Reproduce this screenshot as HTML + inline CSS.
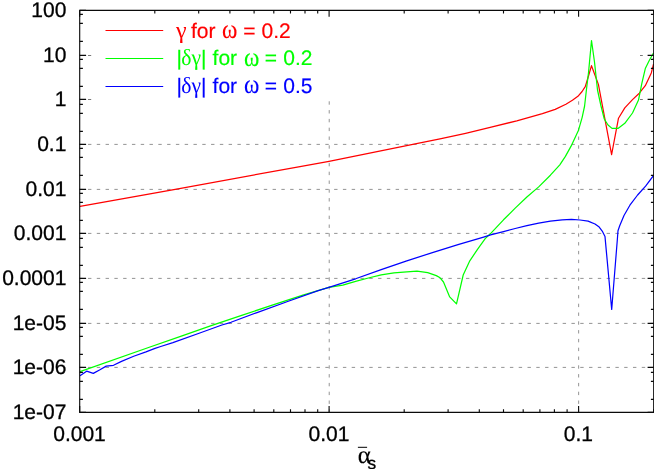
<!DOCTYPE html>
<html><head><meta charset="utf-8"><title>plot</title>
<style>
html,body{margin:0;padding:0;background:#fff;}
body{width:654px;height:469px;overflow:hidden;position:relative;}
svg{position:absolute;left:0;top:0;display:block;will-change:transform;}
text{text-rendering:geometricPrecision;}
text{font-family:"Liberation Sans",sans-serif;font-size:21px;fill:#000;stroke:#000;stroke-width:0.3px;}
.l{stroke-width:0.18px;}
.g{font-family:"Liberation Serif",serif;}
</style></head><body>
<svg width="654" height="469" viewBox="0 0 654 469">
<rect x="0" y="0" width="654" height="469" fill="#fff"/>
<g stroke="#787878" stroke-width="0.8" fill="none" stroke-dasharray="3.4 5.39">
<path d="M79.21,144.4 H653"/>
<path d="M79.21,189.4 H653"/>
<path d="M79.21,233.4 H653"/>
<path d="M79.21,278.4 H653"/>
<path d="M79.21,323.4 H653"/>
<path d="M79.21,367.4 H653"/>
<path d="M329.22,101.3 V412" stroke-dasharray="3.4 5.4"/>
<path d="M578.64,101.3 V412" stroke-dasharray="3.4 5.4"/>
</g>
<g stroke="#787878" stroke-width="1" fill="none">
<path d="M88,55.5 h3.2 M640,55.5 h2.8"/>
<path d="M88,99.5 h3.2 M640,99.5 h2.8"/>
</g>
<path d="M80.0,206.3 L178.0,188.8 L300.0,166.6 L329.0,161.3 L414.0,144.2 L440.0,138.9 L465.6,133.3 L491.2,127.2 L516.8,120.8 L542.4,113.7 L555.2,109.4 L565.9,104.2 L572.4,100.3 L577.9,96.3 L582.1,91.5 L585.4,86.3 L588.5,76.0 L591.5,65.7 L598.4,84.4 L611.6,154.7 L618.5,118.2 L624.8,107.9 L632.5,99.6 L639.3,93.2 L645.3,85.7 L651.3,72.9 L653.5,64.2" stroke="#ff0000" stroke-width="1.22" fill="none" stroke-linejoin="round"/>
<path d="M80.0,371.6 L150.0,347.0 L180.6,336.4 L211.2,325.7 L241.7,315.3 L272.3,305.2 L302.9,295.1 L328.9,287.4 L342.8,285.1 L355.6,281.3 L368.4,278.0 L381.2,274.9 L394.0,272.9 L406.8,271.8 L417.0,271.2 L427.7,272.7 L436.3,275.6 L440.1,277.8 L443.5,282.0 L449.7,296.9 L456.5,303.9 L463.2,275.0 L469.8,260.8 L477.5,249.4 L485.2,238.6 L490.3,233.8 L503.5,219.8 L515.2,208.1 L526.9,197.0 L538.7,186.9 L550.4,175.2 L559.8,164.8 L565.4,156.4 L571.9,144.6 L578.5,130.2 L582.1,117.6 L584.6,106.0 L586.4,90.0 L588.5,72.8 L591.5,40.5 L594.5,62.0 L597.5,90.0 L601.0,106.0 L604.3,119.0 L608.0,125.0 L612.0,128.4 L618.0,128.4 L624.8,123.3 L632.5,113.0 L638.5,100.1 L641.9,83.1 L645.3,68.6 L649.5,60.0 L653.5,53.0" stroke="#00ff00" stroke-width="1.22" fill="none" stroke-linejoin="round"/>
<path d="M80.0,375.7 L86.6,371.2 L93.3,373.4 L99.5,370.0 L106.2,366.1 L113.5,365.3 L121.5,361.4 L133.7,356.3 L146.0,351.9 L155.0,348.4 L160.7,346.5 L172.9,342.6 L200.5,332.7 L221.9,325.0 L231.0,322.3 L257.0,312.6 L287.6,301.5 L318.2,290.6 L328.9,287.4 L355.6,278.8 L381.2,269.6 L406.8,260.9 L432.4,252.6 L458.0,244.6 L483.6,237.1 L490.6,234.9 L503.5,231.6 L515.2,228.5 L526.9,225.7 L538.7,223.1 L550.4,221.1 L562.2,219.8 L571.5,219.4 L580.0,220.0 L588.1,221.1 L595.0,224.0 L599.2,227.1 L602.6,231.7 L605.0,236.6 L611.7,309.5 L617.3,240.0 L618.0,230.8 L619.7,225.7 L624.0,215.5 L629.9,205.2 L637.6,195.0 L645.6,186.2 L653.8,175.2" stroke="#0000ff" stroke-width="1.22" fill="none" stroke-linejoin="round"/>
<path d="M105.5,30.5 H163.2" stroke="#ff0000" stroke-width="1.12"/>
<path d="M105.5,58.5 H163.2" stroke="#00ff00" stroke-width="1.12"/>
<path d="M105.5,86.5 H163.2" stroke="#0000ff" stroke-width="1.12"/>
<g stroke="#0a0a0a" stroke-width="1.12" fill="none">
<path d="M79.7,10.4 H653.7 V412.4 H79.7 Z"/>
<path d="M79.7,10.4 h6.4 M653.7,10.4 h-6.1 M79.7,41.4 h3.2 M653.7,41.4 h-2.8 M79.7,23.4 h3.2 M653.7,23.4 h-2.8 M79.7,14.4 h3.2 M653.7,14.4 h-2.8 M79.7,55.4 h6.4 M653.7,55.4 h-6.1 M79.7,86.4 h3.2 M653.7,86.4 h-2.8 M79.7,68.4 h3.2 M653.7,68.4 h-2.8 M79.7,59.4 h3.2 M653.7,59.4 h-2.8 M79.7,99.4 h6.4 M653.7,99.4 h-6.1 M79.7,131.4 h3.2 M653.7,131.4 h-2.8 M79.7,113.4 h3.2 M653.7,113.4 h-2.8 M79.7,104.4 h3.2 M653.7,104.4 h-2.8 M79.7,144.4 h6.4 M653.7,144.4 h-6.1 M79.7,175.4 h3.2 M653.7,175.4 h-2.8 M79.7,157.4 h3.2 M653.7,157.4 h-2.8 M79.7,148.4 h3.2 M653.7,148.4 h-2.8 M79.7,189.4 h6.4 M653.7,189.4 h-6.1 M79.7,220.4 h3.2 M653.7,220.4 h-2.8 M79.7,202.4 h3.2 M653.7,202.4 h-2.8 M79.7,193.4 h3.2 M653.7,193.4 h-2.8 M79.7,233.4 h6.4 M653.7,233.4 h-6.1 M79.7,265.4 h3.2 M653.7,265.4 h-2.8 M79.7,247.4 h3.2 M653.7,247.4 h-2.8 M79.7,238.4 h3.2 M653.7,238.4 h-2.8 M79.7,278.4 h6.4 M653.7,278.4 h-6.1 M79.7,309.4 h3.2 M653.7,309.4 h-2.8 M79.7,291.4 h3.2 M653.7,291.4 h-2.8 M79.7,282.4 h3.2 M653.7,282.4 h-2.8 M79.7,323.4 h6.4 M653.7,323.4 h-6.1 M79.7,354.4 h3.2 M653.7,354.4 h-2.8 M79.7,336.4 h3.2 M653.7,336.4 h-2.8 M79.7,327.4 h3.2 M653.7,327.4 h-2.8 M79.7,367.4 h6.4 M653.7,367.4 h-6.1 M79.7,399.4 h3.2 M653.7,399.4 h-2.8 M79.7,381.4 h3.2 M653.7,381.4 h-2.8 M79.7,372.4 h3.2 M653.7,372.4 h-2.8 M79.7,412.4 h6.4 M653.7,412.4 h-6.1 M79.7,412.4 v-6.4 M79.7,10.4 v6.4 M154.8,412.4 v-3.2 M154.8,10.4 v3.2 M198.7,412.4 v-3.2 M198.7,10.4 v3.2 M229.9,412.4 v-3.2 M229.9,10.4 v3.2 M254.1,412.4 v-3.2 M254.1,10.4 v3.2 M273.8,412.4 v-3.2 M273.8,10.4 v3.2 M290.5,412.4 v-3.2 M290.5,10.4 v3.2 M305.0,412.4 v-3.2 M305.0,10.4 v3.2 M317.7,412.4 v-3.2 M317.7,10.4 v3.2 M329.1,412.4 v-6.4 M329.1,10.4 v6.4 M404.2,412.4 v-3.2 M404.2,10.4 v3.2 M448.1,412.4 v-3.2 M448.1,10.4 v3.2 M479.3,412.4 v-3.2 M479.3,10.4 v3.2 M503.5,412.4 v-3.2 M503.5,10.4 v3.2 M523.2,412.4 v-3.2 M523.2,10.4 v3.2 M539.9,412.4 v-3.2 M539.9,10.4 v3.2 M554.4,412.4 v-3.2 M554.4,10.4 v3.2 M567.1,412.4 v-3.2 M567.1,10.4 v3.2 M578.6,412.4 v-6.4 M578.6,10.4 v6.4 M653.6,412.4 v-3.2 M653.6,10.4 v3.2"/>
</g>
<text x="66.4" y="17.4" text-anchor="end">100</text>
<text x="66.4" y="62.4" text-anchor="end">10</text>
<text x="66.4" y="106.4" text-anchor="end">1</text>
<text x="66.4" y="151.4" text-anchor="end">0.1</text>
<text x="66.4" y="196.4" text-anchor="end">0.01</text>
<text x="66.4" y="240.4" text-anchor="end">0.001</text>
<text x="66.4" y="285.4" text-anchor="end">0.0001</text>
<text x="66.4" y="330.4" text-anchor="end">1e-05</text>
<text x="66.4" y="374.4" text-anchor="end">1e-06</text>
<text x="66.4" y="419.4" text-anchor="end">1e-07</text>
<text x="79.5" y="440.5" text-anchor="middle">0.001</text>
<text x="328.9" y="440.5" text-anchor="middle">0.01</text>
<text x="578.4" y="440.5" text-anchor="middle">0.1</text>
<text class="g" x="176.1" y="37.6" style="fill:#ff0000;stroke:none;font-size:24px">γ</text>
<text class="l" x="191.0" y="37.6" style="fill:#ff0000;stroke:#ff0000">for</text>
<text class="g" transform="translate(221.9,38.0) scale(1,1.17)" x="0" y="0" style="fill:#ff0000;stroke:#ff0000;stroke-width:0.1px;font-size:23.3px">ω</text>
<text class="l" x="243.2" y="37.6" style="fill:#ff0000;stroke:#ff0000">=</text>
<text class="l" x="261.6" y="37.6" style="fill:#ff0000;stroke:#ff0000">0.2</text>
<text class="l" x="176.4" y="65.2" style="fill:#00ff00;stroke:#00ff00">|</text>
<text class="g" x="181.3" y="65.2" textLength="19.8" lengthAdjust="spacingAndGlyphs" style="fill:#00ff00;stroke:none;font-size:23px">δγ</text>
<text class="l" x="200.9" y="65.2" style="fill:#00ff00;stroke:#00ff00">|</text>
<text class="l" x="212.6" y="65.2" style="fill:#00ff00;stroke:#00ff00">for</text>
<text class="g" transform="translate(244.1,65.6) scale(1,1.17)" x="0" y="0" style="fill:#00ff00;stroke:#00ff00;stroke-width:0.1px;font-size:23.3px">ω</text>
<text class="l" x="264.7" y="65.2" style="fill:#00ff00;stroke:#00ff00">=</text>
<text class="l" x="283.3" y="65.2" style="fill:#00ff00;stroke:#00ff00">0.2</text>
<text class="l" x="176.4" y="92.9" style="fill:#0000ff;stroke:#0000ff">|</text>
<text class="g" x="181.3" y="92.9" textLength="19.8" lengthAdjust="spacingAndGlyphs" style="fill:#0000ff;stroke:none;font-size:23px">δγ</text>
<text class="l" x="200.9" y="92.9" style="fill:#0000ff;stroke:#0000ff">|</text>
<text class="l" x="212.6" y="92.9" style="fill:#0000ff;stroke:#0000ff">for</text>
<text class="g" transform="translate(244.1,93.3) scale(1,1.17)" x="0" y="0" style="fill:#0000ff;stroke:#0000ff;stroke-width:0.1px;font-size:23.3px">ω</text>
<text class="l" x="264.7" y="92.9" style="fill:#0000ff;stroke:#0000ff">=</text>
<text class="l" x="283.3" y="92.9" style="fill:#0000ff;stroke:#0000ff">0.5</text>
<path d="M357.9,447.3 H367.1" stroke="#000" stroke-width="1"/>
<text class="g" x="357.7" y="463.1" style="font-size:25px;stroke-width:0.15px">α</text>
<text x="367.4" y="469.3" style="font-size:17.3px">s</text>
</svg></body></html>
